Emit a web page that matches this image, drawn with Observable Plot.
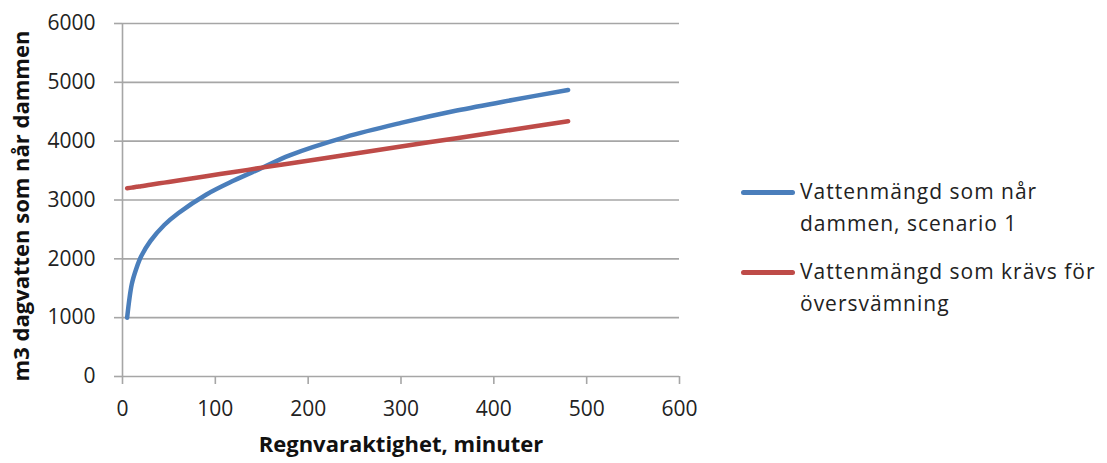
<!DOCTYPE html>
<html>
<head>
<meta charset="utf-8">
<script src="https://cdn.jsdelivr.net/npm/d3@7"></script>
<script src="https://cdn.jsdelivr.net/npm/@observablehq/plot@0.6"></script>
<style>
  body { margin: 0; background: #fff; }
  #chart { position: relative; width: 1107px; height: 463px; overflow: hidden; }
  #chart svg { position: absolute; left: 0; top: 0; }
  .legend { position: absolute; left: 741px; font-family: "Open Sans", sans-serif; font-size: 21px; line-height: 32px; color: #222; letter-spacing: 1px; }
  .legend .swatch { position: absolute; left: 0; width: 54px; height: 5px; border-radius: 3px; }
  .legend .label { position: absolute; left: 59px; white-space: nowrap; }
</style>
</head>
<body>
<div id="chart"></div>
<script>
// Rain duration (minutes) at which both volumes are evaluated
const minutes = [5, 10, 15, 20, 30, 45, 60, 90, 120, 150, 180, 240, 300, 360, 420, 480];
// Stormwater volume reaching the pond, scenario 1 (m3)
const scenario1 = [1000, 1570, 1840, 2040, 2300, 2575, 2775, 3090, 3330, 3545, 3760, 4070, 4310, 4520, 4700, 4870];
// Volume needed before the pond overflows (m3)
const overflow = [3200, 3210, 3225, 3235, 3260, 3295, 3330, 3405, 3475, 3550, 3620, 3765, 3910, 4050, 4195, 4340];

const seriesNames = ["Vattenmängd som når dammen, scenario 1", "Vattenmängd som krävs för översvämning"];
const seriesColors = ["#4a7ebb", "#be4b48"];
const legendLines = [["Vattenmängd som når", "dammen, scenario 1"], ["Vattenmängd som krävs för", "översvämning"]];

const xTicks = [0, 100, 200, 300, 400, 500, 600];
const yTicks = [0, 1000, 2000, 3000, 4000, 5000, 6000];
const xTitle = "Regnvaraktighet, minuter";
const yTitle = "m3 dagvatten som når dammen";

const rows = [
  ...minutes.map((m, i) => ({minutes: m, volume: scenario1[i], series: seriesNames[0]})),
  ...minutes.map((m, i) => ({minutes: m, volume: overflow[i], series: seriesNames[1]}))
];

const gridColor = "#a6a6a6";

const chart = Plot.plot({
  width: 1107,
  height: 463,
  marginLeft: 122,
  marginRight: 428,
  marginTop: 23,
  marginBottom: 87,
  style: {fontFamily: "'Open Sans', sans-serif", fontSize: "21px", color: "#222", background: "transparent", overflow: "visible"},
  x: {domain: [0, 600]},
  y: {domain: [0, 6000]},
  color: {domain: seriesNames, range: seriesColors},
  marks: [
    Plot.ruleY(yTicks, {stroke: gridColor, strokeWidth: 1.6}),
    Plot.ruleX([0], {stroke: gridColor, strokeWidth: 1.6}),
    Plot.axisY(yTicks, {tickSize: 8, tickPadding: 19, stroke: gridColor, strokeWidth: 1.6, tickFormat: d => String(d), label: null}),
    Plot.axisX(xTicks, {tickSize: 8, tickPadding: 17, stroke: gridColor, strokeWidth: 1.6, tickFormat: d => String(d), label: null}),
    Plot.line(rows, {x: "minutes", y: "volume", z: "series", stroke: "series", strokeWidth: 4.5, strokeLinecap: "round", curve: "catmull-rom"}),
    Plot.text([xTitle], {frameAnchor: "bottom", textAnchor: "middle", dy: 75, fontWeight: "bold", fontSize: 22, fill: "#111"}),
    Plot.text([yTitle], {frameAnchor: "left", textAnchor: "middle", rotate: -90, dx: -101, dy: 6, fontWeight: "bold", fontSize: 22, fill: "#111"})
  ]
});

const container = document.getElementById("chart");
container.appendChild(chart);

// Legend to the right of the plot area
const legendTops = [175, 255];
seriesNames.forEach((name, i) => {
  const item = document.createElement("div");
  item.className = "legend";
  item.style.top = legendTops[i] + "px";
  const sw = document.createElement("div");
  sw.className = "swatch";
  sw.style.background = seriesColors[i];
  sw.style.top = "15px";
  item.appendChild(sw);
  legendLines[i].forEach((t, j) => {
    const lab = document.createElement("div");
    lab.className = "label";
    lab.style.top = (j * 32) + "px";
    lab.textContent = t;
    item.appendChild(lab);
  });
  container.appendChild(item);
});
</script>
</body>
</html>
